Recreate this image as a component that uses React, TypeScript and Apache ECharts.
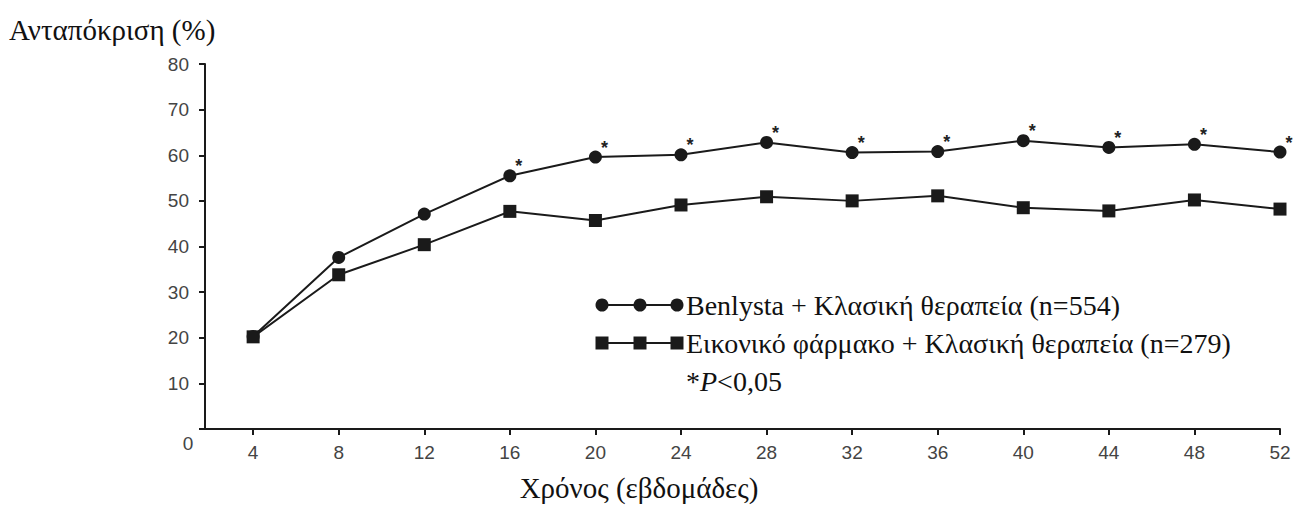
import React, { useEffect, useRef } from "react";
import * as echarts from "echarts";

const weeks = [4, 8, 12, 16, 20, 24, 28, 32, 36, 40, 44, 48, 52];
const benlysta = [20.3, 37.6, 47.1, 55.5, 59.6, 60.1, 62.8, 60.6, 60.8, 63.2, 61.7, 62.4, 60.7];
const placebo = [20.2, 33.8, 40.4, 47.7, 45.7, 49.1, 50.9, 50.0, 51.1, 48.5, 47.8, 50.2, 48.2];
const significantWeeks = [16, 20, 24, 28, 32, 36, 40, 44, 48, 52];
const yTicks = [0, 10, 20, 30, 40, 50, 60, 70, 80];

const seriesNames = [
  "Benlysta + Κλασική θεραπεία (n=554)",
  "Εικονικό φάρμακο + Κλασική θεραπεία (n=279)",
];
const yTitle = "Ανταπόκριση (%)";
const xTitle = "Χρόνος (εβδομάδες)";

const INK = "#1a1a1a";
const SANS = "Liberation Sans";
const SERIF = "Liberation Serif";

export default function App() {
  const ref = useRef<HTMLDivElement>(null);

  useEffect(() => {
    if (!ref.current) return;
    const chart = echarts.init(ref.current, null, { renderer: "svg" });

    const lx = [602, 640, 677];
    const row1 = 305;
    const row2 = 343;
    const serifText = (text: string, x: number, y: number, size: number, align = "left") => ({
      type: "text",
      x,
      y,
      style: {
        text,
        fontFamily: SERIF,
        fontSize: size,
        fill: "#111",
        textAlign: align,
        textVerticalAlign: "middle",
      },
    });
    const legendGraphics: any[] = [
      { type: "line", shape: { x1: lx[0], y1: row1, x2: lx[2], y2: row1 }, style: { stroke: INK, lineWidth: 2 } },
      ...lx.map((x) => ({ type: "circle", shape: { cx: x, cy: row1, r: 6.5 }, style: { fill: INK } })),
      { type: "line", shape: { x1: lx[0], y1: row2, x2: lx[2], y2: row2 }, style: { stroke: INK, lineWidth: 2 } },
      ...lx.map((x) => ({ type: "rect", shape: { x: x - 6.5, y: row2 - 6.5, width: 13, height: 13 }, style: { fill: INK } })),
      serifText(seriesNames[0], 686, row1, 28),
      serifText(seriesNames[1], 686, row2, 28),
      {
        type: "text", x: 686, y: 381,
        style: {
          text: "{a|*}{b|P}{a|<0,05}",
          textVerticalAlign: "middle",
          rich: {
            a: { fontFamily: SERIF, fontSize: 28, fill: "#111" },
            b: { fontFamily: SERIF, fontSize: 28, fontStyle: "italic", fill: "#111" },
          },
        },
      },
    ];

    chart.setOption({
      animation: false,
      backgroundColor: "#ffffff",
      grid: { left: 205, right: 17, top: 64, bottom: 76, containLabel: false },
      xAxis: {
        type: "value",
        min: 1.75,
        max: 52,
        axisLine: { show: true, lineStyle: { color: INK, width: 2 } },
        axisTick: { show: true, customValues: weeks, length: 6, lineStyle: { color: INK, width: 2 } },
        axisLabel: {
          customValues: weeks,
          color: "#444",
          fontFamily: SANS,
          fontSize: 19,
          margin: 14,
        },
        splitLine: { show: false },
      },
      yAxis: {
        type: "value",
        min: 0,
        max: 80,
        interval: 10,
        axisLine: { show: true, lineStyle: { color: INK, width: 2 } },
        axisTick: { show: true, length: 6, lineStyle: { color: INK, width: 2 } },
        axisLabel: {
          color: "#444",
          fontFamily: SANS,
          fontSize: 19,
          margin: 16,
          formatter: (v: number) => (v === 0 ? "" : String(v)),
        },
        splitLine: { show: false },
      },
      graphic: [
        serifText(yTitle, 9, 30, 29),
        serifText(xTitle, 639, 488, 29, "center"),
        {
          type: "text", x: 188, y: 443,
          style: { text: String(yTicks[0]), fontFamily: SANS, fontSize: 19, fill: "#444", textAlign: "center", textVerticalAlign: "middle" },
        },
        ...legendGraphics,
      ],
      series: [
        {
          name: seriesNames[1],
          type: "line",
          data: weeks.map((w, i) => [w, placebo[i]]),
          symbol: "rect",
          symbolSize: 13,
          lineStyle: { color: INK, width: 2 },
          itemStyle: { color: INK },
          z: 3,
        },
        {
          name: seriesNames[0],
          type: "line",
          data: weeks.map((w, i) => ({
            value: [w, benlysta[i]],
            label: { show: significantWeeks.includes(w) },
          })),
          symbol: "circle",
          symbolSize: 13,
          lineStyle: { color: INK, width: 2 },
          itemStyle: { color: INK },
          label: {
            show: false,
            formatter: "*",
            position: "top",
            distance: 0,
            offset: [9, 6],
            color: "#222",
            fontFamily: SANS,
            fontSize: 18,
            fontWeight: "bold",
          },
          z: 4,
        },
      ],
    });

    return () => chart.dispose();
  }, []);

  return (
    <div
      ref={ref}
      style={{ position: "absolute", left: 0, top: 0, width: 1297, height: 505 }}
    />
  );
}
